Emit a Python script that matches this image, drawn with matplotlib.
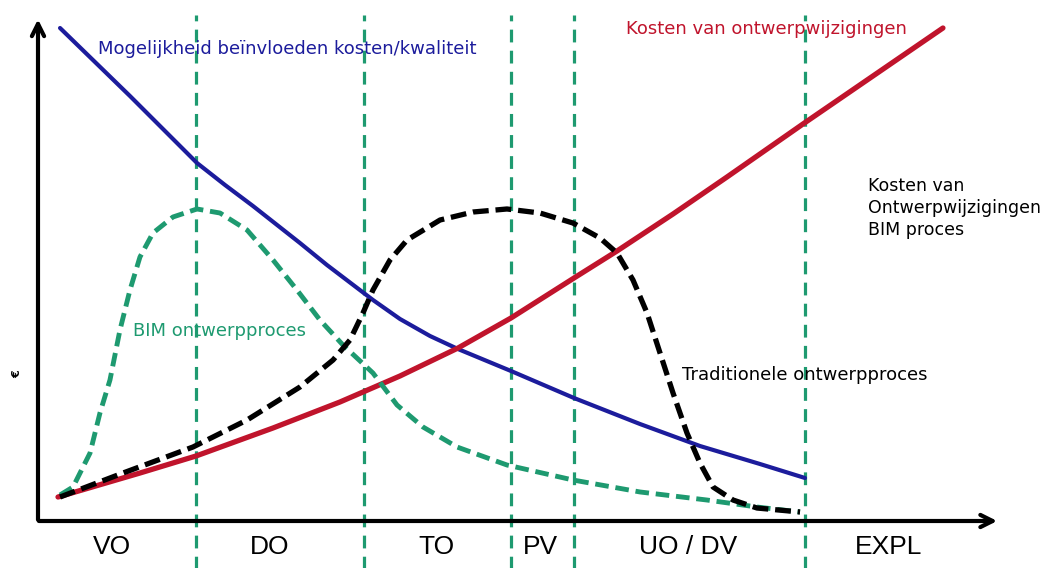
import numpy as np
import matplotlib.pyplot as plt

# fasegrenzen en labels
phase_edges = [16.4, 33.9, 49.2, 55.7, 79.7]
phase_labels = ['VO', 'DO', 'TO', 'PV', 'UO / DV', 'EXPL']
phase_centers = [7.7, 24.1, 41.4, 52.2, 67.6, 88.4]

# mogelijkheid beinvloeden kosten/kwaliteit (blauw)
blue_x = [2.29, 9.56, 16.53, 19.44, 22.35, 27.23, 30.04, 34.82, 37.63, 40.75, 43.66, 49.17,
          55.72, 62.58, 68.81, 75.05, 79.73]
blue_y = [98.01, 84.49, 71.17, 66.80, 62.62, 55.27, 50.89, 43.94, 40.16, 36.78, 34.19, 29.82,
          24.45, 19.28, 14.91, 11.33, 8.55]

# kosten van ontwerpwijzigingen (rood)
red_x = [2.08, 10.60, 16.42, 24.43, 31.39, 37.63, 43.66, 49.17, 55.72, 60.19, 66.01,
         71.62, 79.52, 94.07]
red_y = [4.77, 9.54, 12.92, 18.49, 23.66, 28.83, 34.39, 40.36, 48.31, 53.68, 61.03,
         68.39, 78.93, 98.01]

# traditionele ontwerpproces (zwart gestreept)
trad_x = [2.29, 8.84, 16.11, 21.73, 27.23, 30.67, 32.43, 33.78, 34.82, 36.59, 38.36, 41.79,
          45.22, 48.75, 52.18, 55.61, 58.42, 60.19, 61.85, 63.31, 64.66, 66.01, 67.46, 68.81,
          70.17, 72.25, 74.74, 79.21]
trad_y = [4.77, 9.54, 14.71, 20.08, 26.64, 32.01, 35.98, 41.35, 45.92, 51.89, 55.86, 59.84,
          61.43, 62.03, 61.23, 59.24, 56.26, 53.28, 47.91, 41.35, 33.40, 25.45, 17.50, 11.53,
          6.76, 4.17, 2.58, 1.79]

# BIM ontwerpproces (groen gestreept)
bim_x = [2.29, 3.64, 5.41, 6.44, 7.48, 8.52, 9.56, 10.60, 11.95, 14.03, 16.53, 18.92, 21.73,
         24.43, 26.92, 29.31, 31.70, 34.82, 37.32, 40.02, 43.56, 48.75, 55.61, 62.58, 69.54,
         74.74, 79.21]
bim_y = [5.17, 6.76, 13.52, 21.47, 28.03, 37.97, 45.92, 52.49, 57.26, 60.44, 62.03, 61.23,
         57.85, 51.89, 45.92, 39.96, 34.99, 29.42, 23.06, 18.69, 14.71, 11.13, 8.15, 5.77,
         4.17, 2.78, 1.79]

blue = '#1c1c9c'
red = '#c0142c'
green = '#1e9a70'

fig = plt.figure(figsize=(10.55, 5.68), dpi=100)
ax = fig.add_axes([38 / 1055, 47 / 568, 962 / 1055, 503 / 568])
ax.set_xlim(0, 100)
ax.set_ylim(0, 100)
ax.axis('off')

# fasegrenzen
ax.vlines(phase_edges, -9.5, 100.6, colors=green, linestyles=(0, (4, 2.6)), linewidth=2.3, clip_on=False)

# curves
ax.plot(blue_x, blue_y, color=blue, linewidth=3, solid_capstyle='round', solid_joinstyle='round')
ax.plot(red_x, red_y, color=red, linewidth=3.8, solid_capstyle='round', solid_joinstyle='round')
ax.plot(bim_x, bim_y, color=green, linewidth=3.5, linestyle=(0, (2.8, 1.4)))
ax.plot(trad_x, trad_y, color='black', linewidth=3.8, linestyle=(0, (3, 1.3)))

# assen met pijlen
ax.annotate('', xy=(0, 100.3), xytext=(0, -0.3), xycoords='data',
            arrowprops=dict(arrowstyle='->', lw=3, color='black', mutation_scale=22), annotation_clip=False)
ax.annotate('', xy=(100, 0), xytext=(-0.2, 0), xycoords='data',
            arrowprops=dict(arrowstyle='->', lw=3, color='black', mutation_scale=22), annotation_clip=False)

# teksten
ax.text(6.2, 93.8, 'Mogelijkheid beïnvloeden kosten/kwaliteit', color=blue, fontsize=13, va='center')
ax.text(61.1, 97.9, 'Kosten van ontwerpwijzigingen', color=red, fontsize=13, va='center')
ax.text(9.9, 37.8, 'BIM ontwerpproces', color=green, fontsize=13, va='center')
ax.text(66.9, 29.1, 'Traditionele ontwerpproces', color='black', fontsize=13, va='center')
ax.text(86.3, 62.2, 'Kosten van\nOntwerpwijzigingen\nBIM proces', color='black', fontsize=12.5,
        va='center', linespacing=1.3)
ax.text(-2.2, 29.2, '€', rotation=90, fontsize=8, ha='center', va='center', fontweight='bold')

for c, lab in zip(phase_centers, phase_labels):
    ax.text(c, -5.2, lab, fontsize=19, ha='center', va='center',
            family=['Liberation Sans', 'DejaVu Sans'], clip_on=False)

plt.savefig('out.png', dpi=100)
plt.close()
